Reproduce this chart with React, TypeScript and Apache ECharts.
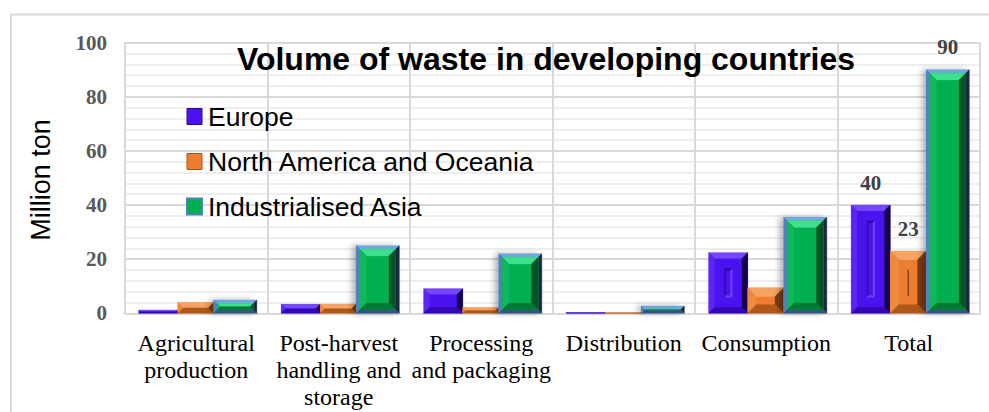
import React, { useEffect, useRef } from "react";
import * as echarts from "echarts";

const categories = [
  "Agricultural\nproduction",
  "Post-harvest\nhandling and\nstorage",
  "Processing\nand packaging",
  "Distribution",
  "Consumption",
  "Total",
];
const seriesNames = ["Europe", "North America and Oceania", "Industrialised Asia"];
const europe = [1.2, 3.3, 9.1, 0.3, 22.4, 40];
const northAmerica = [4, 3.4, 2.1, 0.3, 9.4, 23];
const asia = [4.9, 25, 22, 2.7, 35.5, 90];
const labelledCategories = ["Total"];
const yTicks = { min: 0, max: 100, interval: 20 };

const titleText = "Volume of waste in developing countries";
const yName = "Million ton";

type Pal = { top: string; left: string; right: string; bottom: string; face: string };

function bevel(x: number, y: number, w: number, h: number, b: number, c: Pal, extra: any = {}) {
  const bb = Math.max(0, Math.min(b, w / 2, h / 2));
  const poly = (pts: number[][], fill: string) => ({
    type: "polygon",
    shape: { points: pts },
    style: { fill, stroke: fill, lineWidth: 0.4 },
  });
  return [
    { type: "rect", shape: { x, y, width: w, height: h }, style: { fill: c.face, ...extra } },
    poly([[x, y], [x + w, y], [x + w - bb, y + bb], [x + bb, y + bb]], c.top),
    poly([[x, y], [x + bb, y + bb], [x + bb, y + h - bb], [x, y + h]], c.left),
    poly([[x + w, y], [x + w, y + h], [x + w - bb, y + h - bb], [x + w - bb, y + bb]], c.right),
    poly([[x, y + h], [x + bb, y + h - bb], [x + w - bb, y + h - bb], [x + w, y + h]], c.bottom),
    {
      type: "rect",
      shape: { x: x + bb, y: y + bb, width: Math.max(0, w - 2 * bb), height: Math.max(0, h - 2 * bb) },
      style: { fill: c.face },
    },
  ];
}

const OFFSETS = [-57.5, -18.5, 17.5];
const WIDTHS = [39, 36, 43];

const EU: Pal = { top: "#7446FF", left: "#5A26F6", right: "#14004E", bottom: "#3208B4", face: "#4A12EE" };
const EU_SLOT: Pal = { top: "#2A0890", left: "#3410B8", right: "#6E44FF", bottom: "#6A40FA", face: "#4A14EA" };
const NA: Pal = { top: "#F7A463", left: "#F08A40", right: "#7E3C12", bottom: "#B0581A", face: "#ED7D31" };
const AS_FRAME: Pal = { top: "#6FA8DC", left: "#4F81BD", right: "#1B2840", bottom: "#35557E", face: "#5B9BD5" };
const AS: Pal = { top: "#3EE08C", left: "#10B85A", right: "#005426", bottom: "#007A36", face: "#00B050" };

function makeRenderItem(k: number) {
  return (params: any, api: any) => {
    const i = api.value(0);
    const v = api.value(1);
    const top = api.coord([i, v]);
    const base = api.coord([i, 0]);
    const x = base[0] + OFFSETS[k];
    const w = WIDTHS[k];
    const y = top[1];
    const h = Math.max(0.8, base[1] - top[1]);
    let children: any[] = [];
    if (k === 0) {
      children = bevel(x, y, w, h, 6, EU);
      if (h > 40) {
        children = children.concat(bevel(x + w / 2 - 4, y + 16, 8, h - 32, 2, EU_SLOT));
      }
    } else if (k === 1) {
      children = bevel(x, y, w, h, 9, NA);
      if (h > 40) {
        children.push({
          type: "line",
          shape: { x1: x + w / 2, y1: y + h * 0.3, x2: x + w / 2, y2: y + h * 0.72 },
          style: { stroke: "#8A4010", lineWidth: 1.5 },
        });
      }
    } else {
      children = bevel(x, y, w, h, 3.5, AS_FRAME, {
        shadowBlur: 6,
        shadowOffsetX: -4,
        shadowColor: "rgba(0,0,0,0.3)",
      });
      if (h > 7) {
        children = children.concat(bevel(x + 3.5, y + 3.5, w - 7, h - 7, 7, AS));
      }
    }
    if (labelledCategories.indexOf(categories[i]) >= 0) {
      children.push({
        type: "text",
        x: x + w / 2,
        y: y - 22.5,
        style: {
          text: String(v),
          align: "center",
          verticalAlign: "middle",
          fontSize: 21,
          fontWeight: "bold",
          fontFamily: "Liberation Serif",
          fill: "#404040",
        },
      });
    }
    return { type: "group", children };
  };
}

const seriesData = [europe, northAmerica, asia];
const legendStyles = [
  { color: "#4A12EE", borderColor: "#2A0890", borderWidth: 1 },
  { color: "#ED7D31", borderColor: "#A85418", borderWidth: 1 },
  { color: "#00B050", borderColor: "#4F81BD", borderWidth: 2 },
];

export default function App() {
  const ref = useRef<HTMLDivElement>(null);
  useEffect(() => {
    document.body.style.margin = "0";
    const chart = echarts.init(ref.current!, null, { renderer: "svg" });
    chart.setOption({
      animation: false,
      backgroundColor: "#ffffff",
      grid: { left: 125, right: 9, top: 42.7, bottom: 98.7 },
      legend: {
        orient: "vertical",
        left: 181,
        top: 98,
        itemWidth: 15,
        itemHeight: 16,
        itemGap: 18,
        icon: "rect",
        textStyle: { fontSize: 26.5, fontFamily: "Liberation Sans", color: "#000", padding: [0, 0, 0, 1] },
        data: seriesNames.map((n, i) => ({ name: n, itemStyle: legendStyles[i] })),
      },
      xAxis: {
        type: "category",
        data: categories,
        axisTick: { show: false },
        axisLine: { lineStyle: { color: "#d9d9d9", width: 2 } },
        splitLine: { show: true, lineStyle: { color: "#d9d9d9", width: 2 } },
        axisLabel: {
          interval: 0,
          margin: 16,
          fontSize: 24,
          lineHeight: 27,
          fontFamily: "Liberation Serif",
          color: "#000",
        },
      },
      yAxis: {
        type: "value",
        min: yTicks.min,
        max: yTicks.max,
        interval: yTicks.interval,
        axisLine: { show: true, lineStyle: { color: "#d9d9d9", width: 2 } },
        axisTick: { show: false },
        minorTick: { show: false, splitNumber: 5 },
        minorSplitLine: { show: true, lineStyle: { color: "#eeeeee", width: 2 } },
        splitLine: { show: true, lineStyle: { color: "#d9d9d9", width: 2 } },
        axisLabel: {
          margin: 18,
          fontSize: 21,
          fontWeight: "bold",
          fontFamily: "Liberation Serif",
          color: "#595959",
        },
      },
      graphic: [
        {
          type: "rect",
          z: -10,
          shape: { x: 11, y: 14.5, width: 1000, height: 500 },
          style: { fill: "none", stroke: "#d9d9d9", lineWidth: 2 },
        },
        {
          type: "text",
          x: 546,
          y: 58.5,
          z: 100,
          style: {
            text: titleText,
            align: "center",
            verticalAlign: "middle",
            fontSize: 32,
            fontWeight: "bold",
            fontFamily: "Liberation Sans",
            fill: "#000",
          },
        },
        {
          type: "text",
          x: 41,
          y: 180,
          rotation: Math.PI / 2,
          style: {
            text: yName,
            align: "center",
            verticalAlign: "middle",
            fontSize: 27,
            fontFamily: "Liberation Sans",
            fill: "#000",
          },
        },
      ],
      series: seriesNames.map((name, k) => ({
        name,
        type: "custom",
        itemStyle: { color: legendStyles[k].color },
        encode: { x: 0, y: 1 },
        renderItem: makeRenderItem(k),
        data: seriesData[k].map((v, i) => [i, v]),
      })),
    });
    return () => chart.dispose();
  }, []);
  return <div ref={ref} style={{ width: 989, height: 412 }} />;
}
